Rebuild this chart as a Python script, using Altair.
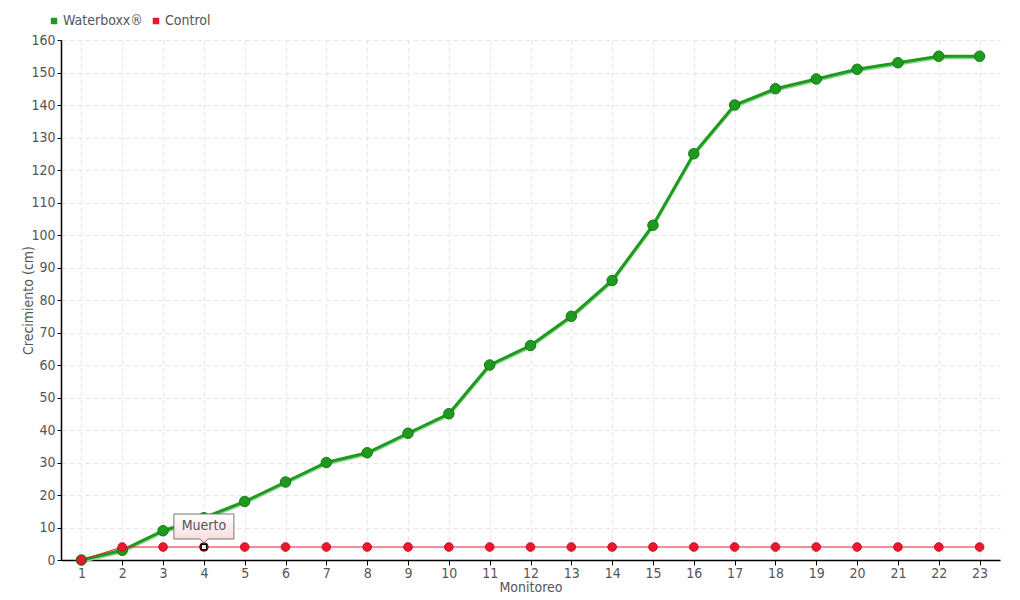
import altair as alt
import pandas as pd

monitoreo = list(range(1, 24))
waterboxx = [0, 3, 9, 13, 18, 24, 30, 33, 39, 45, 60, 66, 75, 86, 103, 125, 140, 145, 148, 151, 153, 155, 155]
control = [0] + [4] * 22
series_names = ["Waterboxx®", "Control"]
series_colors = ["#1e9a1e", "#e8192c"]
y_ticks = list(range(0, 161, 10))
note_x = [4]
note_y = [4]
note_text = ["Muerto"]

FONT = "DejaVu Sans Condensed"
TXT = "#555555"

rows = []
for m, v in zip(monitoreo, waterboxx):
    rows.append({"Monitoreo": m, "Crecimiento": v, "Serie": series_names[0]})
for m, v in zip(monitoreo, control):
    rows.append({"Monitoreo": m, "Crecimiento": v, "Serie": series_names[1]})
df = pd.DataFrame(rows)
note_df = pd.DataFrame({"Monitoreo": note_x, "Crecimiento": note_y, "label": note_text})

x_enc = alt.X("Monitoreo:O", scale=alt.Scale(type="point", padding=0.5),
              axis=alt.Axis(title="Monitoreo", labelAngle=0, grid=True, gridDash=[4, 4],
                            gridColor="#e4e4e4", tickSize=5, tickColor="#000", domainColor="#000",
                            domainWidth=1.5, labelPadding=1, titlePadding=0))
y_enc = alt.Y("Crecimiento:Q", scale=alt.Scale(domain=[0, 160], nice=False),
              axis=alt.Axis(title="Crecimiento (cm)", values=y_ticks, grid=True, gridDash=[4, 4],
                            gridColor="#e4e4e4", tickSize=4, tickColor="#000", domainColor="#000",
                            domainWidth=1.5, labelPadding=2, titleX=-26, titleY=260,
                            titleAnchor="middle"))

base = alt.Chart(df)
green = base.transform_filter(alt.datum.Serie == series_names[0])
red = base.transform_filter(alt.datum.Serie == series_names[1])

glow = green.mark_line(color="#8fd48f", strokeWidth=3, yOffset=1.5).encode(x=x_enc, y=y_enc)
gline = green.mark_line(color="#1e9a1e", strokeWidth=3).encode(x=x_enc, y=y_enc)
rline = red.mark_line(color="#e0202e", strokeWidth=1.2).encode(x=x_enc, y=y_enc)

is_control = alt.datum.Serie == series_names[1]
pts = base.mark_point(filled=True, opacity=1, strokeWidth=1).encode(
    x=x_enc, y=y_enc,
    color=alt.Color("Serie:N", sort=series_names,
                    scale=alt.Scale(domain=series_names, range=series_colors),
                    legend=alt.Legend(title=None, orient="none", legendX=-14, legendY=-26,
                                      direction="horizontal", symbolType="square", symbolSize=42,
                                      symbolStrokeWidth=0,
                                      labelFont=FONT, labelFontSize=14, labelColor=TXT,
                                      columnPadding=6, labelOffset=2, padding=0)),
    size=alt.condition(is_control, alt.value(75), alt.value(110)),
    stroke=alt.condition(is_control, alt.value("#d01020"), alt.value("#147a14")),
)

note_base = alt.Chart(note_df)
callout_path = "M-30,-33 L30,-33 L30,-8 L4,-8 L0,-4 L-4,-8 L-30,-8 Z"
box = note_base.mark_point(
    shape=callout_path, size=4, filled=True, opacity=1, stroke="#777777", strokeWidth=1,
    fill=alt.Gradient(gradient="linear", x1=0, x2=0, y1=0, y2=1,
                      stops=[alt.GradientStop(color="#ffffff", offset=0),
                             alt.GradientStop(color="#fbd8d8", offset=1)]),
).encode(x=x_enc, y=y_enc)
marker = note_base.mark_square(size=30, fill="#ffffff", stroke="#000000", strokeWidth=1.5, opacity=1).encode(x=x_enc, y=y_enc)
label = note_base.mark_text(font=FONT, fontSize=14, color=TXT, dy=-21).encode(x=x_enc, y=y_enc, text="label:N")

chart = alt.layer(glow, gline, rline, pts, marker, box, label).properties(
    width=939, height=520,
    autosize=alt.AutoSizeParams(type="none"),
    padding={"left": 53, "top": 32, "right": 10, "bottom": 35},
).configure_axis(
    labelFont=FONT, labelFontSize=14, labelColor=TXT,
    titleFont=FONT, titleFontSize=14, titleColor=TXT, titleFontWeight="normal",
).configure_view(stroke=None)

chart.save("out.html", embed_options={"renderer": "svg", "actions": False})
